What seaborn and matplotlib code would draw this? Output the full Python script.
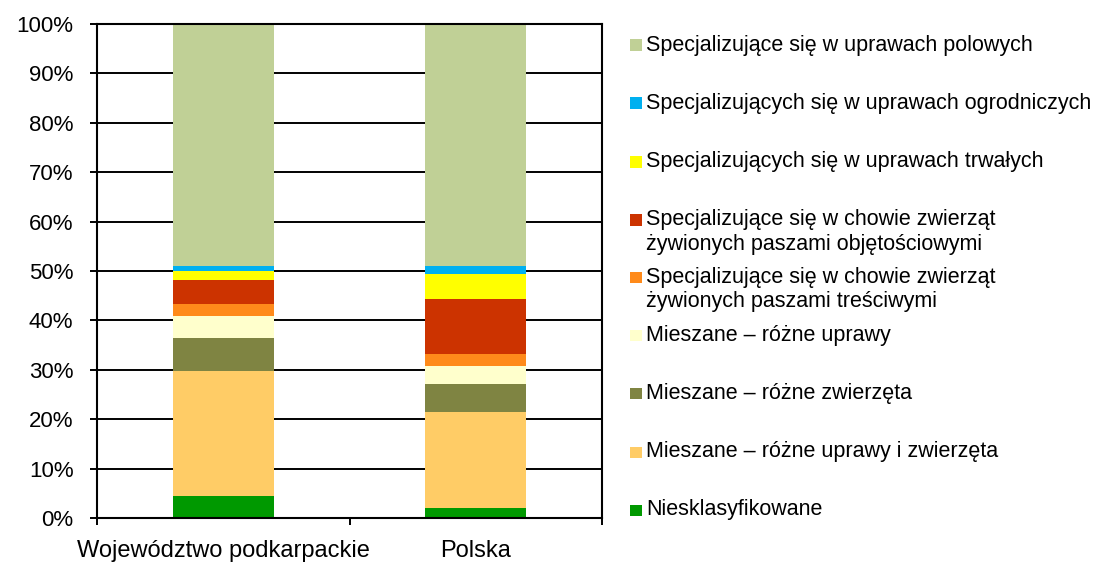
import numpy as np
import pandas as pd
import matplotlib
matplotlib.use('Agg')
import matplotlib.pyplot as plt
from matplotlib.patches import Rectangle
import seaborn as sns

# Data (shares in %, bottom -> top)
regions = ['Województwo podkarpackie', 'Polska']
categories = [
    'Niesklasyfikowane',
    'Mieszane – różne uprawy i zwierzęta',
    'Mieszane – różne zwierzęta',
    'Mieszane – różne uprawy',
    'Specjalizujące się w chowie zwierząt\nżywionych paszami treściwymi',
    'Specjalizujące się w chowie zwierząt\nżywionych paszami objętościowymi',
    'Specjalizujących się w uprawach trwałych',
    'Specjalizujących się w uprawach ogrodniczych',
    'Specjalizujące się w uprawach polowych',
]
podkarpackie = [4.4, 25.4, 6.6, 4.4, 2.6, 4.7, 2.0, 0.9, 49.0]
polska = [2.0, 19.4, 5.7, 3.6, 2.5, 11.2, 4.9, 1.7, 49.0]
colors = ['#009900', '#FFCC66', '#7F8442', '#FFFFCC', '#FF8A1A',
          '#CC3300', '#FFFF00', '#00B0F0', '#C0D096']

df = pd.DataFrame({'kategoria': categories,
                   regions[0]: podkarpackie,
                   regions[1]: polska})
long = df.melt(id_vars='kategoria', var_name='region', value_name='udzial')
long['cum'] = long.groupby('region')['udzial'].cumsum()

sns.set_style("white")
plt.rcParams['font.family'] = ['Liberation Sans', 'DejaVu Sans']
plt.rcParams['text.color'] = 'black'
plt.rcParams['xtick.color'] = 'black'
plt.rcParams['ytick.color'] = 'black'

fig = plt.figure(figsize=(10.94, 5.68), dpi=100)
ax = fig.add_axes([97 / 1094, 1 - 518 / 568, 505 / 1094, 494 / 568])

# stacked bars: draw cumulative totals from the top layer down
for cat, col in reversed(list(zip(categories, colors))):
    sub = long[long['kategoria'] == cat]
    sns.barplot(data=sub, x='region', y='cum', order=regions, color=col,
                saturation=1, width=0.4, errorbar=None, linewidth=0, ax=ax)

ax.set_xlim(-0.5, 1.5)
ax.set_ylim(0, 100)
ax.set_yticks(np.arange(0, 101, 10))
ax.set_yticklabels([f'{v}%' for v in range(0, 101, 10)], fontsize=16)
ax.yaxis.grid(True, color='black', linewidth=1.4)
ax.set_axisbelow(True)
ax.tick_params(axis='y', direction='out', length=5, width=1.4, pad=12,
               left=True, labelcolor='black')

ax.set_xticks([-0.5, 0.5, 1.5])
ax.set_xticklabels([])
ax.set_xticks([0, 1], minor=True)
ax.set_xticklabels(regions, minor=True, fontsize=17)
ax.tick_params(axis='x', which='major', direction='out', length=5, width=1.4, bottom=True)
ax.tick_params(axis='x', which='minor', length=0, pad=16, labelcolor='black')
ax.set_xlabel('')
ax.set_ylabel('')
for s in ax.spines.values():
    s.set_color('black')
    s.set_linewidth(1.5)
    s.set_visible(True)

# legend (top entry first), first-line y positions in pixels
legend_y = [45, 103, 162, 220, 277, 335, 393, 452, 510]
line_gap = 25
for cat, col, ypx in zip(reversed(categories), reversed(colors), legend_y):
    fig.patches.append(Rectangle((630 / 1094, 1 - (ypx + 5.5) / 568), 12 / 1094, 11 / 568,
                                 transform=fig.transFigure, facecolor=col,
                                 edgecolor='none'))
    for k, line in enumerate(cat.split('\n')):
        fig.text(646 / 1094, 1 - (ypx + k * line_gap) / 568, line,
                 fontsize=15.5, va='center', ha='left', color='black')

fig.savefig('out.png', dpi=100)
